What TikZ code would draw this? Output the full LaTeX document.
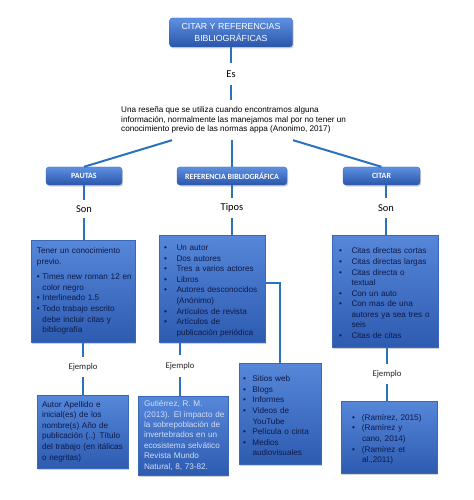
\documentclass[tikz,border=0pt]{standalone}
\usepackage{fontspec}
\usetikzlibrary{shadows,calc}
\newfontfamily\arial{Liberation Sans}
\newfontfamily\calib{Carlito}
\definecolor{lineblue}{HTML}{2A72BE}
\definecolor{boxtop}{HTML}{5687D9}
\definecolor{boxbot}{HTML}{2D5BB0}
\definecolor{hdtop}{HTML}{5E90E2}
\definecolor{hdbot}{HTML}{2A56AA}
\definecolor{boxedge}{HTML}{3B67B9}
\definecolor{navy}{HTML}{0E1A48}
\definecolor{pale}{HTML}{D3DDF3}
\newcommand{\bi}[2]{\par\hangindent=#1\hangafter=1\noindent\makebox[#1][l]{\textbullet}#2}
\newcommand{\LS}[1]{\leftskip=#1bp\relax}
\begin{document}
\begin{tikzpicture}[x=1bp,y=-1bp,
  conn/.style={draw=lineblue,line width=2bp},
  shad/.style={drop shadow={opacity=0.35,shadow xshift=1.2bp,shadow yshift=-1.5bp}},
  topbox/.style={shad,rounded corners=3bp,top color=hdtop,bottom color=hdbot,draw=boxedge,line width=0.4pt,text=white,inner sep=0pt,align=center},
  hdfont/.style={font=\calib\bfseries\fontsize{8}{10}\selectfont},
  bigbox/.style={shad,top color=boxtop,bottom color=boxbot,draw=boxedge,line width=0.4pt,inner xsep=0pt,inner ysep=2bp,align=left,text=navy,font=\arial\fontsize{8.2}{10.6}\selectfont},
  lab/.style={font=\calib\fontsize{10.5}{12}\selectfont,inner sep=0pt,minimum height=20bp},
  ejlab/.style={font=\calib\fontsize{8.8}{10}\selectfont,inner sep=0pt,minimum height=20bp,text=black!85}]
\useasboundingbox[fill=white] (0,0) rectangle (474,500);

% title
\node[topbox,minimum width=123bp,minimum height=29bp,font=\arial\fontsize{8.8}{11.5}\selectfont] (title) at (231,32.5) {CITAR Y REFERENCIAS\\BIBLIOGRÁFICAS};
\node[lab,minimum height=22bp] (es) at (231,74) {Es};
\node[font=\arial\fontsize{8.2}{9.8}\selectfont,align=left,inner sep=0pt,minimum height=40bp,anchor=west] (def) at (121,120)
 {Una reseña que se utiliza cuando encontramos alguna\\información, normalmente las manejamos mal por no tener un\\conocimiento previo de las normas appa (Anonimo, 2017)};

% headers
\node[topbox,hdfont,minimum width=76bp,minimum height=18bp] (pautas) at (84,176) {PAUTAS};
\node[topbox,hdfont,minimum width=110bp,minimum height=18bp] (ref) at (232,176) {REFERENCIA BIBLIOGRÁFICA};
\node[topbox,hdfont,minimum width=77bp,minimum height=18bp] (citar) at (381.5,176) {CITAR};

% labels
\node[lab,minimum height=18bp] (son1) at (84,209) {Son};
\node[lab] (tipos) at (232,208) {Tipos};
\node[lab] (son3) at (386,208) {Son};

% main boxes
\node[bigbox,minimum width=104bp,text width=104bp,minimum height=102bp] (box1) at (83,291)
 {\LS{6}Tener un conocimiento\newline previo.\par\vskip5bp
  \bi{5.5bp}{Times new roman 12 en\newline color negro}
  \bi{5.5bp}{Interlineado 1.5}
  \bi{5.5bp}{Todo trabajo escrito\newline debe incluir citas y\newline bibliografía}\par};
\node[bigbox,minimum width=106bp,text width=106bp,minimum height=107bp] (box2) at (212,288.5)
 {\LS{5}\bi{12.5bp}{Un autor}
  \bi{12.5bp}{Dos autores}
  \bi{12.5bp}{Tres a varios actores}
  \bi{12.5bp}{Libros}
  \bi{12.5bp}{Autores desconocidos\newline (Anónimo)}
  \bi{12.5bp}{Artículos de revista}
  \bi{12.5bp}{Artículos de\newline publicación periódica}\par};
\node[bigbox,minimum width=106bp,text width=106bp,minimum height=112bp] (box3) at (385,291)
 {\LS{7}\bi{12.5bp}{Citas directas cortas}
  \bi{12.5bp}{Citas directas largas}
  \bi{12.5bp}{Citas directa o\newline textual}
  \bi{12.5bp}{Con un auto}
  \bi{12.5bp}{Con mas de una\newline autores ya sea tres o\newline seis}
  \bi{12.5bp}{Citas de citas}\par};

% ejemplo labels
\node[ejlab] (ej1) at (83,367) {Ejemplo};
\node[ejlab,minimum height=22bp] (ej2) at (180,366) {Ejemplo};
\node[ejlab] (ej3) at (387,374) {Ejemplo};

% lower boxes
\node[bigbox,minimum width=91bp,text width=91bp,minimum height=73bp] (box4) at (82.5,431.5)
 {\LS{5}Autor Apellido e\newline inicial(es) de los\newline nombre(s) Año de\newline publicación (..) Título\newline del trabajo (en itálicas\newline o negritas)\par};
\node[bigbox,text=pale,minimum width=90bp,text width=90bp,minimum height=79bp,font=\arial\fontsize{8.2}{10.4}\selectfont] (box5) at (183,435.5)
 {\LS{6}Gutiérrez, R. M.\newline (2013). El impacto de\newline la sobrepoblación de\newline invertebrados en un\newline ecosistema selvático\newline Revista Mundo\newline Natural, 8, 73-82.\par};
\node[bigbox,minimum width=82bp,text width=82bp,minimum height=101bp] (web) at (280,413.5)
 {\LS{4}\bi{9.5bp}{Sitios web}
  \bi{9.5bp}{Blogs}
  \bi{9.5bp}{Informes}
  \bi{9.5bp}{Videos de\newline YouTube}
  \bi{9.5bp}{Película o cinta}
  \bi{9.5bp}{Medios\newline audiovisuales}\par};
\node[bigbox,minimum width=96bp,text width=96bp,minimum height=72bp] (box6) at (389,437)
 {\LS{11}\bi{10bp}{(Ramírez, 2015)}
  \bi{10bp}{(Ramírez y\newline cano, 2014)}
  \bi{10bp}{(Ramírez et\newline al.,2011)}\par};

% connectors
\draw[conn] (title.south -| es) -- (es.north);
\draw[conn] (es.south) -- (es.south |- def.north);
\draw[conn] ([xshift=51bp]def.south west) -- (pautas.north);
\draw[conn] (ref.north |- def.south) -- (ref.north);
\draw[conn] ([xshift=172bp]def.south west) -- (citar.north);
\draw[conn] (pautas.south) -- (son1.north);
\draw[conn] (son1.south) -- (son1.south |- box1.north);
\draw[conn] (ref.south) -- (tipos.north);
\draw[conn] (tipos.south) -- (tipos.south |- box2.north);
\draw[conn] (citar.south -| son3) -- (son3.north);
\draw[conn] (son3.south) -- (son3.south |- box3.north);
\draw[conn] (box1.south -| ej1) -- (ej1.north);
\draw[conn] (ej1.south) -- (ej1.south |- box4.north);
\draw[conn] (box2.south -| ej2) -- (ej2.north);
\draw[conn] (ej2.south) -- (ej2.south |- box5.north);
\draw[conn] ([yshift=5.5bp]box2.east) -| (web.north);
\draw[conn] (box3.south -| ej3) -- (ej3.north);
\draw[conn] (ej3.south) -- (ej3.south |- box6.north);
\end{tikzpicture}
\end{document}
